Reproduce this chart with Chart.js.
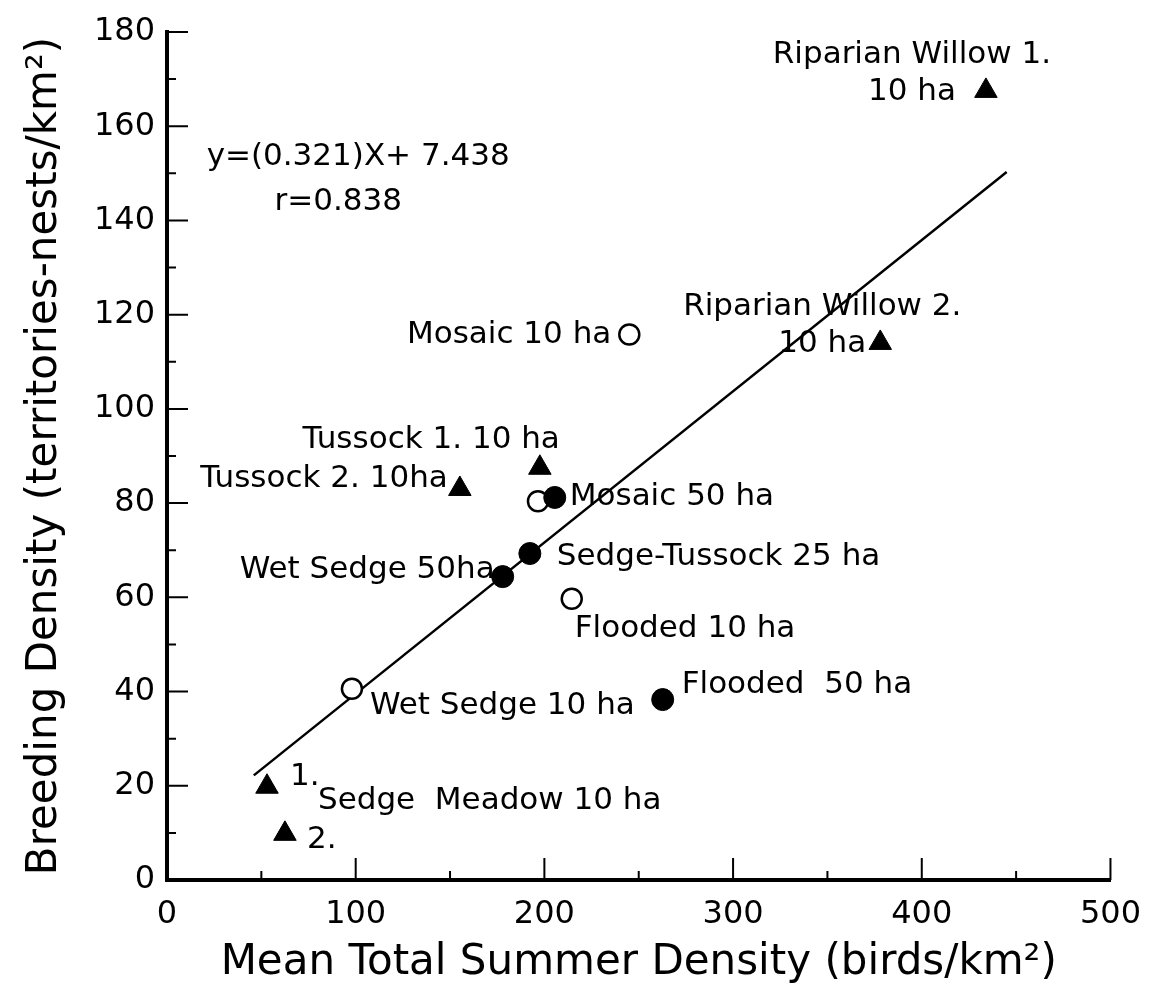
<!DOCTYPE html>
<html>
<head>
<meta charset="utf-8">
<script src="https://cdn.jsdelivr.net/npm/chart.js@4.4.1/dist/chart.umd.min.js"></script>
<style>
  html, body { margin: 0; padding: 0; background: #fff; }
  canvas { display: block; }
</style>
</head>
<body>
<canvas id="densityChart" width="1156" height="993"></canvas>
<script>
// study plots, split by marker type
var triNames = ["Riparian Willow 1.\n10 ha", "Riparian Willow 2.\n10 ha", "Tussock 1. 10 ha", "Tussock 2. 10ha", "1.", "2."];
var triX = [434, 378, 197.6, 155.2, 53, 62.5];
var triY = [167.5, 114, 87.5, 83, 19.8, 9.8];

var dotNames = ["Mosaic 50 ha", "Sedge-Tussock 25 ha", "Wet Sedge 50ha", "Flooded  50 ha"];
var dotX = [205.5, 192.3, 177.9, 262.7];
var dotY = [81.2, 69.3, 64.4, 38.3];

var ringNames = ["Mosaic 10 ha", "", "Flooded 10 ha", "Wet Sedge 10 ha"];
var ringX = [245, 196.6, 214.5, 98];
var ringY = [115.8, 80.4, 59.7, 40.6];

// regression line
var slope = 0.321;
var intercept = 7.438;
var fitRange = [46, 445];

var xTicks = [0, 100, 200, 300, 400, 500];
var yTicks = [0, 20, 40, 60, 80, 100, 120, 140, 160, 180];

// where each name sits relative to its marker (px)
var labelPlace = {
  "Riparian Willow 1.\n10 ha": { dx: -74, dy: -36, align: "center" },
  "Riparian Willow 2.\n10 ha": { dx: -58, dy: -36, align: "center" },
  "Tussock 1. 10 ha": { dx: 20, dy: -28, align: "right" },
  "Tussock 2. 10ha": { dx: -12, dy: -10, align: "right" },
  "1.": { dx: 23, dy: -10, align: "left" },
  "2.": { dx: 22, dy: 6, align: "left" },
  "Mosaic 50 ha": { dx: 15, dy: -1, align: "left" },
  "Sedge-Tussock 25 ha": { dx: 27, dy: 3, align: "left" },
  "Wet Sedge 50ha": { dx: -8, dy: -7, align: "right" },
  "Flooded  50 ha": { dx: 19, dy: -15, align: "left" },
  "Mosaic 10 ha": { dx: -18, dy: 0, align: "right" },
  "Flooded 10 ha": { dx: 3, dy: 30, align: "left" },
  "Wet Sedge 10 ha": { dx: 18, dy: 17, align: "left" }
};

// free text placed in data units
var captions = [
  { text: "y=(0.321)X+ 7.438", x: 21, y: 153.5 },
  { text: "r=0.838", x: 57, y: 144 },
  { text: "Sedge  Meadow 10 ha", x: 80, y: 16.7 }
];

function pts(xs, ys) {
  return xs.map(function (x, i) { return { x: x, y: ys[i] }; });
}

var fitLine = fitRange.map(function (x) { return { x: x, y: slope * x + intercept }; });

var labelFont = "31px 'DejaVu Sans'";

// tick marks point into the plot
var innerTicks = {
  id: "innerTicks",
  afterDatasetsDraw: function (chart) {
    var c = chart.ctx, xs = chart.scales.x, ys = chart.scales.y;
    var area = chart.chartArea;
    c.save();
    c.strokeStyle = "#000";
    c.lineWidth = 2;
    c.beginPath();
    for (var v = 50; v <= 500; v += 50) {
      var px = xs.getPixelForValue(v);
      var len = v % 100 === 0 ? 22 : 9;
      c.moveTo(px, area.bottom);
      c.lineTo(px, area.bottom - len);
    }
    for (var w = 10; w <= 180; w += 10) {
      var py = ys.getPixelForValue(w);
      var l = w % 20 === 0 ? 21 : 9;
      c.moveTo(area.left, py);
      c.lineTo(area.left + l, py);
    }
    c.stroke();
    c.restore();
  }
};

var pointNames = {
  id: "pointNames",
  afterDatasetsDraw: function (chart) {
    var c = chart.ctx;
    c.save();
    c.font = labelFont;
    c.fillStyle = "#000";
    c.textBaseline = "middle";
    chart.data.datasets.forEach(function (ds, di) {
      if (!ds.names) return;
      var meta = chart.getDatasetMeta(di);
      ds.names.forEach(function (name, i) {
        var p = labelPlace[name];
        if (!name || !p) return;
        var el = meta.data[i];
        c.textAlign = p.align;
        name.split("\n").forEach(function (line, k) {
          c.fillText(line, el.x + p.dx, el.y + p.dy + k * 37);
        });
      });
    });
    c.textAlign = "left";
    captions.forEach(function (cap) {
      c.fillText(cap.text, chart.scales.x.getPixelForValue(cap.x), chart.scales.y.getPixelForValue(cap.y));
    });
    c.restore();
  }
};

Chart.defaults.font.family = "'DejaVu Sans'";
Chart.defaults.color = "#000";

var ctx = document.getElementById("densityChart").getContext("2d");
var densityChart = new Chart(ctx, {
  type: "scatter",
  data: {
    datasets: [
      {
        label: "triangles",
        names: triNames,
        data: pts(triX, triY),
        pointStyle: "triangle",
        pointRadius: 13,
        backgroundColor: "#000",
        borderColor: "#000",
        borderWidth: 1
      },
      {
        label: "dots",
        names: dotNames,
        data: pts(dotX, dotY),
        pointStyle: "circle",
        pointRadius: 11,
        backgroundColor: "#000",
        borderColor: "#000",
        borderWidth: 1
      },
      {
        label: "rings",
        names: ringNames,
        data: pts(ringX, ringY),
        pointStyle: "circle",
        pointRadius: 10,
        backgroundColor: "#fff",
        borderColor: "#000",
        borderWidth: 2.5
      },
      {
        label: "fit",
        type: "line",
        data: fitLine,
        borderColor: "#000",
        borderWidth: 2.5,
        pointRadius: 0,
        fill: false
      }
    ]
  },
  options: {
    responsive: false,
    animation: false,
    layout: { padding: { top: 32, right: 45, left: 0, bottom: 0 } },
    plugins: {
      legend: { display: false },
      tooltip: { enabled: false }
    },
    scales: {
      x: {
        type: "linear",
        min: 0,
        max: 500,
        afterBuildTicks: function (s) { s.ticks = xTicks.map(function (v) { return { value: v }; }); },
        afterFit: function (s) { s.height = 113; },
        ticks: { font: { size: 32 }, padding: 15, maxRotation: 0 },
        grid: { display: false, drawTicks: false },
        border: { display: true, color: "#000", width: 4 },
        title: {
          display: true,
          text: "Mean Total Summer Density (birds/km²)",
          font: { size: 42 },
          padding: { top: 0, bottom: 5 }
        }
      },
      y: {
        type: "linear",
        min: 0,
        max: 180,
        afterBuildTicks: function (s) { s.ticks = yTicks.map(function (v) { return { value: v }; }); },
        afterFit: function (s) { s.width = 167; },
        ticks: { font: { size: 32 }, padding: 12 },
        grid: { display: false, drawTicks: false },
        border: { display: true, color: "#000", width: 4 },
        title: {
          display: true,
          text: "Breeding Density (territories-nests/km²)",
          font: { size: 42 },
          padding: { top: 20, bottom: 0 }
        }
      }
    }
  },
  plugins: [innerTicks, pointNames]
});
</script>
</body>
</html>
